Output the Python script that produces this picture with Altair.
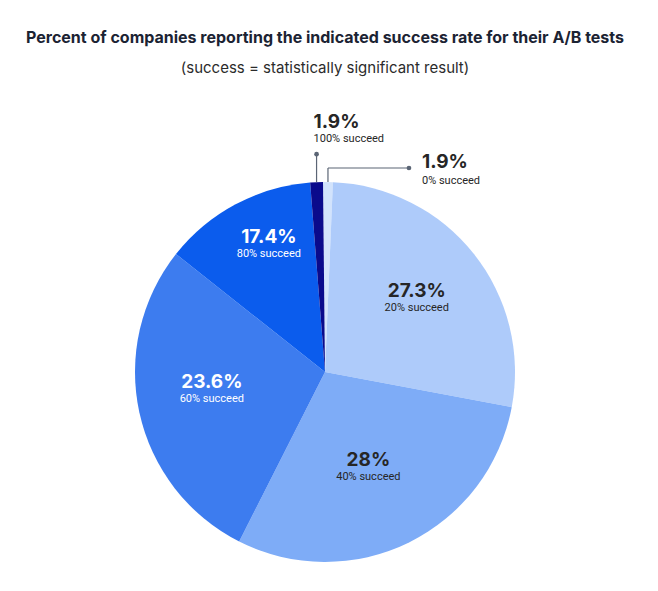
import altair as alt
import pandas as pd
import numpy as np

# ---------------- data ----------------
groups = ["0% succeed", "20% succeed", "40% succeed", "60% succeed", "80% succeed", "100% succeed"]
pct_labels = ["1.9%", "27.3%", "28%", "23.6%", "17.4%", "1.9%"]
# arc sizes as drawn in the picture (percent of the full circle)
slice_share = [0.83, 27.3, 29.5, 28.2, 13.1, 1.08]

# ---------------- styling ----------------
colors = ["#d2e3fc", "#aecbfa", "#7eacf7", "#3d7cef", "#0b5ced", "#0a0a8c"]
text_colors = ["#262626", "#262626", "#262626", "#ffffff", "#ffffff", "#262626"]
inside_radius = [None, 0.61, 0.54, 0.61, 0.74, None]   # label distance, in pie radii
nudge_x = [0, 1, -2, 0, 10, 0]                          # pixel nudges of inside labels
nudge_y = [0, -1, 4, -7, -3, 0]
W, H, R = 624, 380, 190
start_deg = -0.6
FONT = "Inter"
SUBFONT = "Roboto"
LEAD = "#5b6575"

# ---------------- derived tables ----------------
share = np.array(slice_share)
frac = share / share.sum()
cum = np.concatenate([[0], np.cumsum(frac)])
start = np.radians(start_deg)
mid = start + 2 * np.pi * (cum[:-1] + cum[1:]) / 2
ax_, ay_ = np.sin(mid), np.cos(mid)
px = 1.0 / R  # one pixel in data units

arcs = pd.DataFrame({"group": groups, "share": slice_share, "idx": range(len(groups))})

inside = pd.DataFrame({
    "group": groups, "pct": pct_labels, "tcolor": text_colors,
    "r": [r if r is not None else np.nan for r in inside_radius], "mid": mid,
    "nx": nudge_x, "ny": nudge_y,
}).dropna()
inside["x"] = inside["r"] * np.sin(inside["mid"]) + inside["nx"] * px
inside["y"] = inside["r"] * np.cos(inside["mid"]) - inside["ny"] * px

i100, i0 = 5, 0
# leader lines (segments)
segs = pd.DataFrame({
    "x": [ax_[i100], ax_[i0], ax_[i0]],
    "y": [ay_[i100], ay_[i0], ay_[i0] + 14 * px],
    "x2": [ax_[i100], ax_[i0], ax_[i0] + 81 * px],
    "y2": [ay_[i100] + 28 * px, ay_[i0] + 14 * px, ay_[i0] + 14 * px],
})
dots = pd.DataFrame({
    "x": [ax_[i100], ax_[i0] + 81 * px],
    "y": [ay_[i100] + 28 * px, ay_[i0] + 14 * px],
})
outside = pd.DataFrame({
    "pct": [pct_labels[i100], pct_labels[i0]],
    "sub": [groups[i100], groups[i0]],
    "x": [ax_[i100] - 3 * px, ax_[i0] + 94 * px],
    "yp": [ay_[i100] + 60 * px, ay_[i0] + 20 * px],
    "ys": [ay_[i100] + 43 * px, ay_[i0] + 1 * px],
})

xs = alt.Scale(domain=[-W / 2 / R, W / 2 / R], nice=False, zero=False)
ys = alt.Scale(domain=[-H / 2 / R, H / 2 / R], nice=False, zero=False)

pie = alt.Chart(arcs).mark_arc(outerRadius=R, stroke=None).encode(
    theta=alt.Theta("share:Q", stack=True, scale=alt.Scale(range=[start, start + 2 * np.pi])),
    order=alt.Order("idx:Q"),
    color=alt.Color("group:N", scale=alt.Scale(domain=groups, range=colors), legend=None),
)

in_pct = alt.Chart(inside).mark_text(font=FONT, fontSize=19, fontWeight="bold", dy=-8).encode(
    x=alt.X("x:Q", scale=xs, axis=None),
    y=alt.Y("y:Q", scale=ys, axis=None),
    text="pct:N",
    color=alt.Color("tcolor:N", scale=None),
)
in_sub = alt.Chart(inside).mark_text(font=SUBFONT, fontSize=11, dy=9).encode(
    x=alt.X("x:Q", scale=xs, axis=None),
    y=alt.Y("y:Q", scale=ys, axis=None),
    text="group:N",
    color=alt.Color("tcolor:N", scale=None),
)

lines = alt.Chart(segs).mark_rule(color=LEAD, strokeWidth=1.2).encode(
    x=alt.X("x:Q", scale=xs, axis=None), y=alt.Y("y:Q", scale=ys, axis=None),
    x2="x2:Q", y2="y2:Q",
)
pts = alt.Chart(dots).mark_circle(color=LEAD, size=22, opacity=1).encode(
    x=alt.X("x:Q", scale=xs, axis=None), y=alt.Y("y:Q", scale=ys, axis=None),
)
out_pct = alt.Chart(outside).mark_text(font=FONT, fontSize=19, fontWeight="bold", align="left",
                                       color="#262626").encode(
    x=alt.X("x:Q", scale=xs, axis=None), y=alt.Y("yp:Q", scale=ys, axis=None), text="pct:N",
)
out_sub = alt.Chart(outside).mark_text(font=SUBFONT, fontSize=11, align="left", color="#262626").encode(
    x=alt.X("x:Q", scale=xs, axis=None), y=alt.Y("ys:Q", scale=ys, axis=None), text="sub:N",
)

chart = alt.layer(pie, in_pct, in_sub, lines, pts, out_pct, out_sub).properties(
    width=W, height=H,
    padding={"left": 5, "right": 5, "top": 22, "bottom": 5},
    title=alt.TitleParams(
        text="Percent of companies reporting the indicated success rate for their A/B tests",
        subtitle="(success = statistically significant result)",
        font=FONT, fontSize=16, fontWeight="bold", color="#1b2333",
        subtitleFont=FONT, subtitleFontSize=15, subtitleColor="#2b2b2b",
        subtitlePadding=15, anchor="middle", offset=37,
    ),
).configure_view(stroke=None)

chart.save("out.html", embed_options={"renderer": "svg", "actions": False})
